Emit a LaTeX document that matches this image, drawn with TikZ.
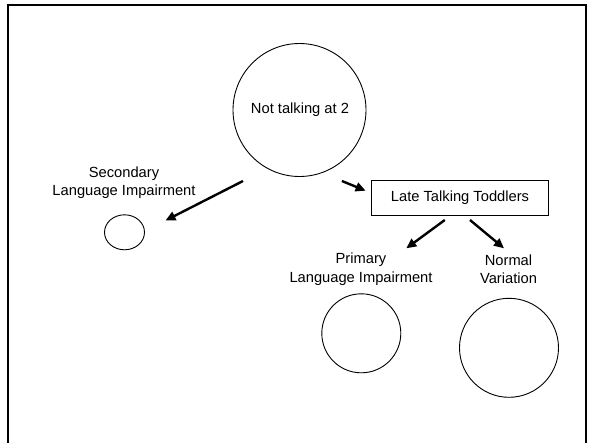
\documentclass[tikz,border=0pt]{standalone}
\usepackage{fontspec}
\setmainfont{Liberation Sans}
\usetikzlibrary{arrows.meta,shapes.geometric}
\begin{document}
\begin{tikzpicture}[x=1pt,y=-1pt,
  txt/.style={font=\fontsize{14.7pt}{18.4pt}\selectfont, align=center, inner sep=0pt},
  arr/.style={line width=2.4pt, -{Triangle[length=10pt,width=9pt]}},
  boxst/.style={draw, line width=0.9pt, minimum width=177.5pt, minimum height=34.7pt, inner sep=0pt, font=\fontsize{14.7pt}{18.4pt}\selectfont}
]
\useasboundingbox (0,0) rectangle (591,442);
\draw[line width=2.3pt] (7.8,460) -- (7.8,5) -- (586,5) -- (586,460);

\node[draw, circle, line width=0.9pt, inner sep=0pt, minimum size=133pt] (top) at (299.5,110) {};
\node[txt] (toplbl) at (300,110) {Not talking at 2};

\node[txt] (seclbl) at (124,182.5) {Secondary\\Language Impairment};
\node[draw, line width=0.9pt, ellipse, minimum width=40pt, minimum height=35pt, inner sep=0pt] (sec) at (124.5,232.3) {};

\node[boxst] (late) at (460,197.6) {Late Talking Toddlers};

\node[txt] (primlbl) at (361,269) {Primary\\Language Impairment};
\node[txt] (normlbl) at (508.5,269) {Normal\\Variation};

\node[draw, circle, line width=0.9pt, minimum size=79pt, inner sep=0pt] (prim) at (361.3,333.3) {};
\node[draw, circle, line width=0.9pt, minimum size=99pt, inner sep=0pt] (norm) at (509,347.8) {};

\coordinate (a1s) at (243,181);
\coordinate (a1e) at (165.5,220.5);
\coordinate (a2s) at (341.9,181);
\coordinate (a2e) at (365.6,190.7);
\coordinate (a3s) at (444.8,220);
\coordinate (a3e) at (406.3,248.3);
\coordinate (a4s) at (470,220);
\coordinate (a4e) at (504,248.3);

\draw[arr] (a1s) -- (a1e);
\draw[arr] (a2s) -- (a2e);
\draw[arr] (a3s) -- (a3e);
\draw[arr] (a4s) -- (a4e);
\end{tikzpicture}
\end{document}
